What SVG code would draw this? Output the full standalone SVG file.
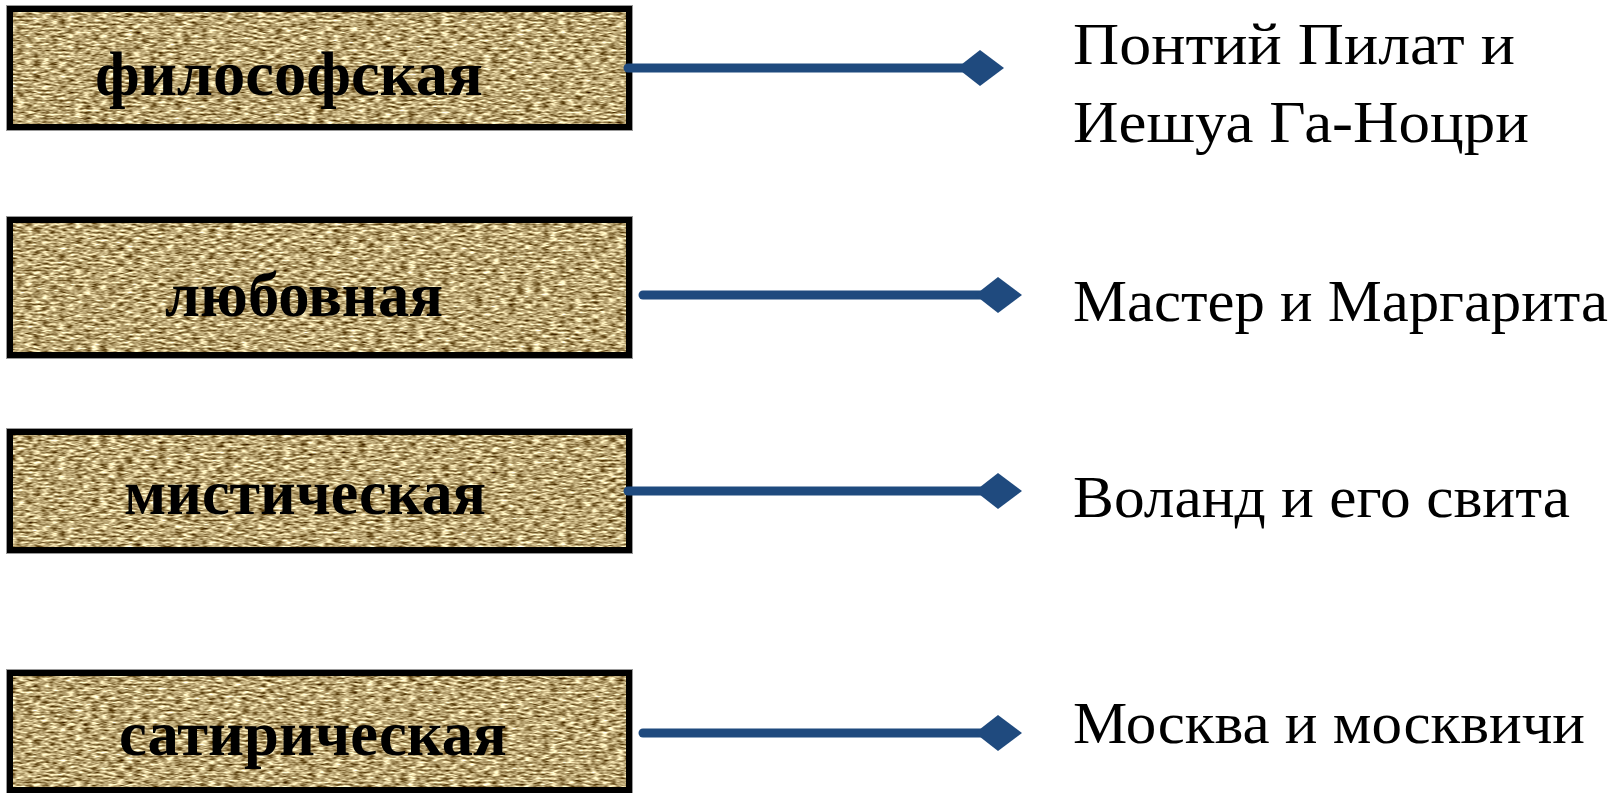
<svg xmlns="http://www.w3.org/2000/svg" width="1622" height="793" viewBox="0 0 1622 793">
<style>
.box{fill:none;stroke:#000;stroke-width:6}
.boxo{fill:none;stroke:#999;stroke-width:1}
.lbl{font-family:"Liberation Serif",serif;font-weight:bold;font-size:64px;fill:#000}
.rt{font-family:"Liberation Serif",serif;font-size:60px;fill:#000}
.ln{stroke:#1F4A7E;stroke-width:9;stroke-linecap:round;fill:none}
.dm{fill:#1F4A7E}
</style>
<defs>
<filter id="burlap" x="0" y="0" width="100%" height="100%" color-interpolation-filters="sRGB">
<feTurbulence type="fractalNoise" baseFrequency="0.12 0.5" numOctaves="2" seed="3" result="n"/>
<feColorMatrix in="n" type="matrix" values="1.4 0 0 0 0.03  1.5 0 0 0 -0.1  1.5 0 0 0 -0.295  0 0 0 0 1"/>
</filter>
</defs>
<rect width="1622" height="793" fill="#fff"/>
<g id="node-filosofskaya">
<rect x="10" y="9" width="619" height="118" filter="url(#burlap)"/>
<rect class="box" x="10" y="9" width="619" height="118"/>
<rect class="boxo" x="6.5" y="5.5" width="626" height="125"/>
<text class="lbl" x="95" y="95" textLength="388" lengthAdjust="spacingAndGlyphs">философская</text>
</g>
<g id="node-lyubovnaya">
<rect x="10" y="220" width="619" height="135" filter="url(#burlap)"/>
<rect class="box" x="10" y="220" width="619" height="135"/>
<rect class="boxo" x="6.5" y="216.5" width="626" height="142"/>
<text class="lbl" x="165" y="316" textLength="278" lengthAdjust="spacingAndGlyphs">любовная</text>
</g>
<g id="node-misticheskaya">
<rect x="10" y="432" width="619" height="118" filter="url(#burlap)"/>
<rect class="box" x="10" y="432" width="619" height="118"/>
<rect class="boxo" x="6.5" y="428.5" width="626" height="125"/>
<text class="lbl" x="124" y="514" textLength="362" lengthAdjust="spacingAndGlyphs">мистическая</text>
</g>
<g id="node-satiricheskaya">
<rect x="10" y="673" width="619" height="117" filter="url(#burlap)"/>
<rect class="box" x="10" y="673" width="619" height="117"/>
<rect class="boxo" x="6.5" y="669.5" width="626" height="124"/>
<text class="lbl" x="119" y="755" textLength="388" lengthAdjust="spacingAndGlyphs">сатирическая</text>
</g>
<g id="connectors">
<line class="ln" x1="628" y1="68" x2="962" y2="68"/>
<polygon class="dm" points="957,68 980,50 1004,68 980,86"/>
<line class="ln" x1="643" y1="295" x2="980" y2="295"/>
<polygon class="dm" points="975,295 998,277 1022,295 998,313"/>
<line class="ln" x1="628" y1="491" x2="980" y2="491"/>
<polygon class="dm" points="975,491 998,473 1022,491 998,509"/>
<line class="ln" x1="643" y1="733" x2="980" y2="733"/>
<polygon class="dm" points="975,733 998,715 1022,733 998,751"/>
</g>
<g id="targets">
<text class="rt" x="1073" y="64" textLength="442" lengthAdjust="spacingAndGlyphs">Понтий Пилат и</text>
<text class="rt" x="1073" y="142" textLength="456" lengthAdjust="spacingAndGlyphs">Иешуа Га-Ноцри</text>
<text class="rt" x="1073" y="321" textLength="535" lengthAdjust="spacingAndGlyphs">Мастер и Маргарита</text>
<text class="rt" x="1073" y="517" textLength="497" lengthAdjust="spacingAndGlyphs">Воланд и его свита</text>
<text class="rt" x="1073" y="743" textLength="512" lengthAdjust="spacingAndGlyphs">Москва и москвичи</text>
</g>
</svg>
